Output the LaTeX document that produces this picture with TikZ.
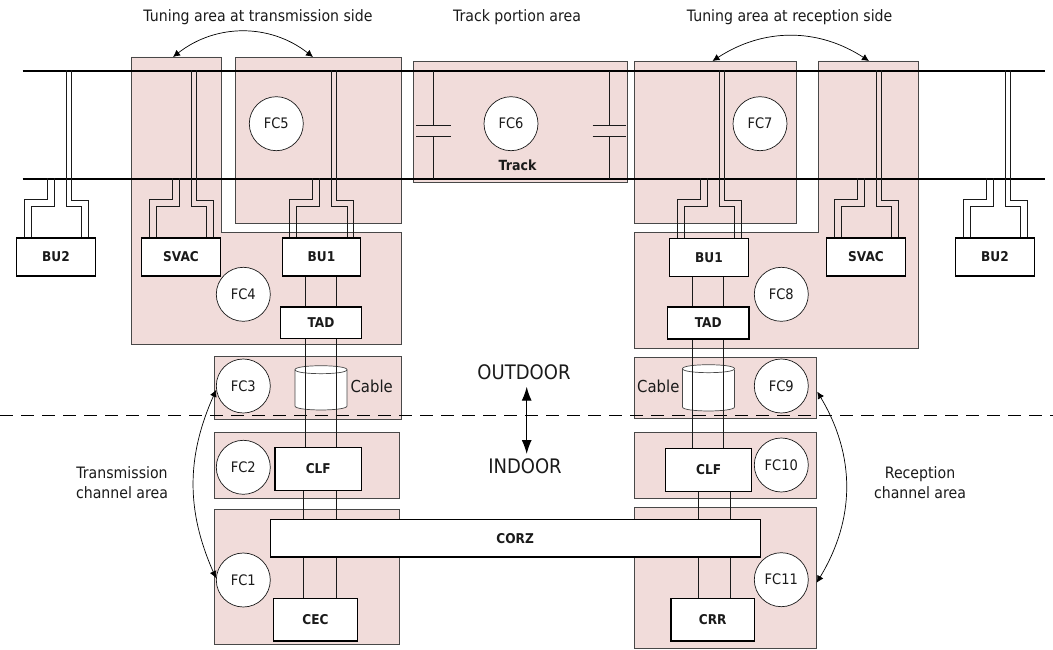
\documentclass[tikz,border=0pt]{standalone}
\usepackage{fontspec}
\setmainfont{DejaVu Sans}[FakeStretch=0.9]
\usetikzlibrary{arrows.meta}
\definecolor{Ink}{HTML}{1A1A1A}
\definecolor{Zone}{HTML}{F1DCDA}
\tikzset{
  zone/.style={draw=Ink!80,fill=Zone,line width=0.8pt},
  unitbox/.style={draw=black,fill=white,line width=1.2pt,inner sep=0pt,font=\bfseries\fontsize{13.5}{16}\selectfont,text=Ink},
  fcnode/.style={circle,draw=Ink,fill=white,line width=0.7pt,minimum size=54pt,inner sep=0pt,font=\fontsize{14.5}{16}\selectfont,text=Ink},
  caption/.style={font=\fontsize{15.7}{20}\selectfont,text=Ink,align=center,inner sep=0pt},
  wire/.style={draw=Ink,line width=0.8pt},
  rail/.style={draw=black,line width=1.4pt},
  span/.style={draw=black,line width=0.7pt,{Latex[length=7pt,width=7pt]}-{Latex[length=7pt,width=7pt]}},
  cabledrum/.style={draw=Ink!80,fill=white,line width=0.7pt},
}
% four stubs from a unit up to the two rails
\newcommand{\StubWires}[1]{%
  \draw[wire] ([xshift=8pt]#1.north west) |- ++(23,-38) -- ++(0,-21.5);%
  \draw[wire] ([xshift=15pt]#1.north west) |- ++(23,-31) -- ++(0,-28.5);%
  \draw[wire] ([xshift=72pt]#1.north west) |- ++(-17,-37) -- ++(0,-130.5);%
  \draw[wire] ([xshift=65.5pt]#1.north west) |- ++(-15.5,-31) -- ++(0,-136.5);%
}
\newcommand{\TrackCap}[3]{%
  \draw[wire] (#1,71) -- (#1,125);%
  \draw[wire] (#1,136.3) -- (#1,179);%
  \draw[wire] (#2,125) -- (#3,125);%
  \draw[wire] (#2,136.3) -- (#3,136.3);%
}
\newcommand{\CableDrum}[3]{%
  \draw[cabledrum] (#1-26,#2) -- (#1-26,#3) .. controls (#1-26,#3+5.3) and (#1+26,#3+5.3) .. (#1+26,#3) -- (#1+26,#2)
    .. controls (#1+26,#2-5.3) and (#1-26,#2-5.3) .. cycle;%
  \draw[cabledrum] (#1-26,#2) .. controls (#1-26,#2+5.3) and (#1+26,#2+5.3) .. (#1+26,#2);%
}

\begin{document}
\begin{tikzpicture}[x=1pt,y=-1pt]
\useasboundingbox (0,0) rectangle (1053,650);
% pink zones
\draw[zone] (131,57) -- (221,57) -- (221,232) -- (401,232) -- (401,344.5) -- (131,344.5) -- cycle;
\draw[zone] (235,57) rectangle (401,223.5);
\draw[zone] (413,61) rectangle (627.5,182);
\draw[zone] (634.5,61) rectangle (796,223.5);
\draw[zone] (818,61) -- (918,61) -- (918,348) -- (634,348) -- (634,232) -- (818,232) -- cycle;
\draw[zone] (214,356) rectangle (401,419);
\draw[zone] (214,432) rectangle (399,498.5);
\draw[zone] (214,509) rectangle (399,644.5);
\draw[zone] (634.5,357) rectangle (816.5,418);
\draw[zone] (634.5,432) rectangle (816.5,498.5);
\draw[zone] (634.5,507.5) rectangle (816.5,648.5);
% rails
\coordinate (railAw) at (22.5,71);
\coordinate (railAe) at (1045,71);
\coordinate (railBw) at (22.5,179);
\coordinate (railBe) at (1045,179);
\draw[rail] (railAw) -- (railAe);
\draw[rail] (railBw) -- (railBe);
\draw[dash pattern=on 13pt off 8pt,line width=1.5pt,black] (0,415.3) -- (1053,415.3);
\TrackCap{433.3}{416}{451}
\TrackCap{609.6}{592.5}{626}
% units
\node[unitbox,minimum width=78.5pt,minimum height=38pt] (bu2l) at (56,257) {BU2};
\node[unitbox,minimum width=78.5pt,minimum height=38pt] (svacl) at (181,257) {SVAC};
\node[unitbox,minimum width=78.5pt,minimum height=38pt] (bu1l) at (321.5,257) {BU1};
\node[unitbox,minimum width=78.5pt,minimum height=38pt] (bu1r) at (709,257.5) {BU1};
\node[unitbox,minimum width=78.5pt,minimum height=38pt] (svacr) at (866,257) {SVAC};
\node[unitbox,minimum width=78.5pt,minimum height=38pt] (bu2r) at (995,257) {BU2};
\foreach \u in {bu2l,svacl,bu1l,bu1r,svacr,bu2r} {
  \StubWires{\u}
}
\node[unitbox,minimum width=81.5pt,minimum height=31.5pt] (tadl) at (321,322.7) {TAD};
\node[unitbox,minimum width=81.5pt,minimum height=32pt] (tadr) at (708.3,323) {TAD};
\CableDrum{321}{369.7}{406}
\CableDrum{708.5}{368.7}{407}
\node[unitbox,minimum width=86.5pt,minimum height=43pt] (clfl) at (318.3,468.8) {CLF};
\node[unitbox,minimum width=86pt,minimum height=43pt] (clfr) at (708.7,469.8) {CLF};
\node[unitbox,minimum width=490pt,minimum height=37.7pt] (corz) at (515.2,538.2) {CORZ};
\node[unitbox,minimum width=83.5pt,minimum height=42.7pt] (cec) at (315.5,619.7) {CEC};
\node[unitbox,minimum width=83.5pt,minimum height=42.7pt] (crr) at (712.7,619.7) {CRR};
% buses between units
\foreach \a/\b/\xa/\xb in {bu1l/tadl/305.3/336.7,tadl/clfl/305.3/336.7,clfl/corz/303.3/336.3,corz/cec/303.3/336.3,
                           bu1r/tadr/692.7/723.7,tadr/clfr/692.7/723.7,clfr/corz/698/730.7,corz/crr/698/730.7} {
  \draw[wire] (\a.south -| \xa,0) -- (\b.north -| \xa,0);
  \draw[wire] (\a.south -| \xb,0) -- (\b.north -| \xb,0);
}
% function circles
\foreach \n/\t/\x/\y in {fc1/FC1/243.3/580,fc2/FC2/243.3/467.3,fc3/FC3/243.3/386,fc4/FC4/243.3/294.3,
                         fc5/FC5/276.3/123.7,fc6/FC6/511/123.7,fc7/FC7/760/123.7,fc8/FC8/781.3/294.3,
                         fc9/FC9/781.3/386,fc10/FC10/781.3/465,fc11/FC11/781.3/579.7} {
  \node[fcnode] (\n) at (\x,\y) {\t};
}
% captions
\node[caption] (captl) at (258,17) {Tuning area at transmission side};
\node[caption] (capmid) at (517,17) {Track portion area};
\node[caption] (captr) at (789.6,17) {Tuning area at reception side};
\node[caption,font=\bfseries\fontsize{14}{16}\selectfont] (track) at (517.5,165) {Track};
\node[caption,font=\fontsize{16.5}{20}\selectfont] (lblcl) at (371.7,386) {Cable};
\node[caption,font=\fontsize{16.5}{20}\selectfont] (lblcr) at (658.3,386) {Cable};
\node[caption,font=\fontsize{20}{20}\selectfont] (outdoor) at (524,372.7) {OUTDOOR};
\node[caption,font=\fontsize{20}{20}\selectfont] (indoor) at (525,466.7) {INDOOR};
\node[caption] (capbl) at (122,483) {Transmission\\channel area};
\node[caption] (capbr) at (920,483) {Reception\\channel area};
% spans
\coordinate (spanAa) at (173,57);
\coordinate (spanAb) at (313,57);
\coordinate (spanBa) at (712.5,61);
\coordinate (spanBb) at (869,61);
\coordinate (spanCa) at (817.3,391.7);
\coordinate (spanCb) at (816.7,582.7);
\coordinate (arrU) at (526.7,386.7);
\coordinate (arrD) at (526.7,454);
\draw[span] (spanAa) to[bend left=38] (spanAb);
\draw[span] (spanBa) to[bend left=33] (spanBb);
\draw[span] (fc3.188) to[bend right=24] (fc1.176);
\draw[span] (spanCa) to[bend left=31] (spanCb);
\draw[line width=1.1pt,black,{Latex[length=14pt,width=10pt]}-{Latex[length=14pt,width=10pt]}] (arrU) -- (arrD);
\end{tikzpicture}
\end{document}
